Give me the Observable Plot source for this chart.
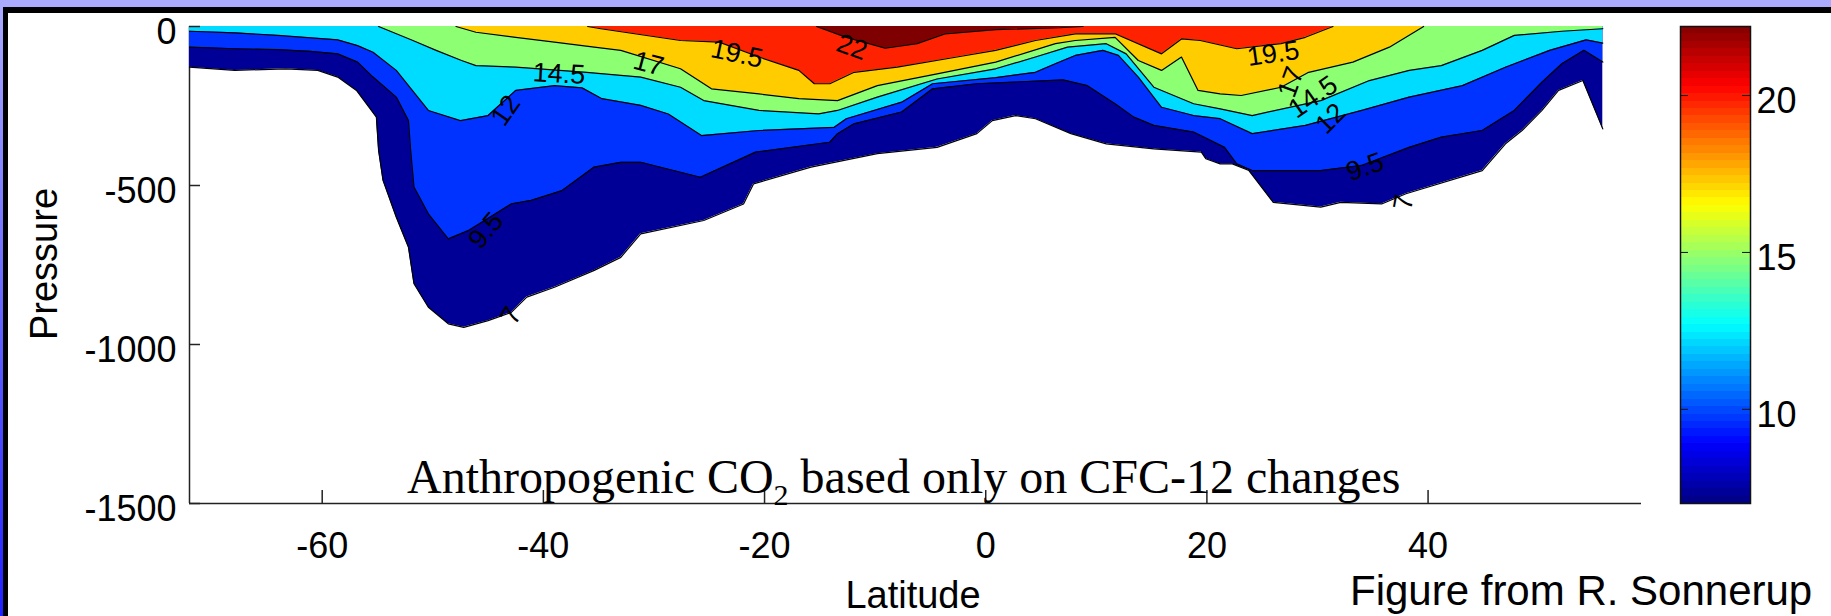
<!DOCTYPE html>
<html>
<head>
<meta charset="utf-8">
<script src="https://cdn.jsdelivr.net/npm/d3@7"></script>
<script src="https://cdn.jsdelivr.net/npm/@observablehq/plot@0.6"></script>
<style>
  body { margin: 0; background: #fff; }
  #chart { position: relative; width: 1831px; height: 616px; overflow: hidden; background: #fff; }
  #chart > svg { position: absolute; top: 0; }
  .deco { position: absolute; z-index: 5; }
</style>
</head>
<body>
<div id="chart"></div>
<script>
// Contour levels of anthropogenic CO2 (µmol/kg) and the fill used for each band
const levels = [7, 9.5, 12, 14.5, 17, 19.5, 22];
const bandColors = ["#000096", "#0033ff", "#00dcff", "#8cff73", "#ffcc00", "#ff2200", "#7f0000"];

// Isoline depths (pressure, dbar) along latitude, one pair of arrays per level
const iso7Lat = [-72, -67.9, -63.3, -60.4, -58.6, -56.9, -55.1, -54.9, -54.5, -53.3, -52.2, -51.7, -50.4, -48.6, -47.2, -45.0, -42.9, -41.5, -39.0, -35.4, -33.0, -31.2, -25.5, -21.9, -21.0, -15.8, -9.8, -4.4, -0.8, 0.6, 2.7, 4.5, 7.7, 10.9, 15.2, 19.5, 19.9, 21.2, 22.3, 23.8, 26.0, 30.3, 32.1, 35.8, 38.0, 44.9, 47.0, 48.5, 50.3, 51.8, 54.0, 55.8];
const iso7P = [-128, -138, -133, -138, -159, -201, -285, -390, -484, -600, -694, -809, -883, -935, -946, -925, -899, -851, -820, -767, -726, -652, -610, -558, -495, -442, -400, -380, -337, -296, -280, -290, -337, -369, -385, -395, -416, -432, -432, -453, -553, -568, -553, -558, -526, -453, -369, -327, -264, -201, -170, -322];

const iso95Lat = [-72, -67.9, -64.0, -61.1, -58.6, -56.8, -55.4, -53.3, -52.2, -52.0, -51.7, -50.4, -48.6, -46.8, -42.9, -41.1, -38.3, -35.4, -33.0, -31.2, -25.8, -20.8, -14.1, -13.4, -11.9, -7.6, -4.8, -0.8, 7.0, 9.2, 11.7, 13.4, 15.2, 18.8, 21.6, 22.7, 24.1, 30.3, 34.0, 38.3, 41.2, 44.9, 47.8, 50.3, 52.1, 54.1, 55.8];
const iso95P = [-65, -70, -73, -78, -86, -112, -159, -222, -296, -390, -505, -589, -668, -642, -558, -547, -516, -442, -427, -427, -474, -395, -364, -337, -306, -269, -196, -180, -168, -186, -243, -285, -311, -332, -380, -432, -453, -453, -437, -380, -348, -327, -264, -175, -117, -75, -112];

const iso12Lat = [-72, -67.9, -64.0, -58.6, -56.8, -55.4, -53.3, -50.4, -47.5, -45.0, -42.5, -39.0, -36.5, -34.7, -31.2, -28.7, -25.7, -20.5, -13.7, -12.6, -7.6, -4.8, 0.9, 4.5, 6.3, 8.1, 10.6, 12.0, 13.8, 15.9, 18.8, 21.2, 24.1, 28.9, 34.0, 38.3, 43.1, 47.0, 51.0, 54.3, 55.8];
const iso12P = [-15, -20, -28, -42, -60, -81, -138, -264, -296, -280, -201, -186, -193, -227, -248, -275, -343, -327, -317, -290, -238, -180, -161, -144, -117, -91, -75, -91, -159, -254, -280, -290, -337, -311, -264, -222, -186, -128, -75, -42, -52];

const iso145Lat = [-54.9, -51.8, -49.7, -47.4, -46.1, -42.5, -36.1, -33.0, -31.2, -27.6, -25.5, -20.5, -15.1, -13.4, -9.8, -4.4, 0.9, 4.5, 7.4, 10.9, 12.7, 15.2, 18.8, 21.2, 24.1, 30.3, 34.7, 38.3, 41.2, 44.9, 47.8, 52.1, 55.8];
const iso145P = [0, -44, -75, -107, -123, -128, -144, -154, -159, -191, -233, -264, -275, -264, -222, -165, -133, -96, -65, -54, -86, -191, -243, -259, -280, -233, -170, -138, -123, -75, -28, -15, -7];

const iso17Lat = [-47.9, -46.1, -42.5, -39.0, -35.4, -33.0, -27.6, -24.8, -20.5, -16.9, -13.4, -9.8, -4.4, 0.9, 6.3, 8.1, 11.7, 13.8, 15.9, 17.7, 19.2, 21.2, 23.1, 26.7, 29.2, 33.2, 36.5, 39.6];
const iso17P = [0, -18, -34, -49, -65, -75, -133, -196, -212, -227, -233, -186, -149, -112, -54, -44, -34, -107, -138, -96, -201, -212, -217, -191, -144, -112, -65, 0];

const iso195Lat = [-36.0, -34.8, -27.6, -24.1, -20.5, -16.9, -15.5, -14.1, -11.9, -8.0, -2.6, 0.9, 4.5, 8.1, 11.7, 15.9, 17.7, 19.4, 22.7, 26.7, 28.9, 31.4];
const iso195P = [0, -7, -44, -49, -96, -138, -180, -180, -144, -128, -96, -75, -44, -23, -23, -86, -39, -44, -70, -54, -34, 0];

const iso22Lat = [-15.3, -12.6, -9.1, -6.2, -3.7, 0.9, 6.7, 8.8];
const iso22P = [0, -34, -68, -54, -23, -10, -4, 0];

// Inline contour labels
const labelText = ["22", "19.5", "17", "14.5", "12", "9.5", "7", "19.5", "17", "14.5", "12", "9.5", "7"];
const labelLat = [-12.1, -22.5, -30.5, -38.6, -43.4, -45.2, -42.9, 26.0, 27.6, 29.6, 31.2, 34.3, 37.8];
const labelP = [-65, -86, -117, -149, -264, -642, -909, -86, -175, -222, -290, -442, -553];
const labelAngle = [20, 12, 15, 3, -55, -50, -60, -8, -70, -35, -45, -20, -80];

// Axis ticks
const xTicks = [-60, -40, -20, 0, 20, 40];
const yTicks = [0, -500, -1000, -1500];
const cbarTicks = [10, 15, 20];

// Colorbar range and jet colormap stops
const cbarRange = [7, 22.2];
const jetStops = [7, 8.9, 12.7, 16.5, 20.3, 22.2];
const jetColors = ["#000080", "#0000ff", "#00ffff", "#ffff00", "#ff0000", "#800000"];

const isolines = [
  {level: 7, lat: iso7Lat, p: iso7P},
  {level: 9.5, lat: iso95Lat, p: iso95P},
  {level: 12, lat: iso12Lat, p: iso12P},
  {level: 14.5, lat: iso145Lat, p: iso145P},
  {level: 17, lat: iso17Lat, p: iso17P},
  {level: 19.5, lat: iso195Lat, p: iso195P},
  {level: 22, lat: iso22Lat, p: iso22P}
];
const rows = isolines.flatMap(({level, lat, p}) => lat.map((x, i) => ({level, lat: x, p: p[i]})));
const labels = labelText.map((text, i) => ({text, lat: labelLat[i], p: labelP[i], angle: labelAngle[i]}));

const sans = "'Liberation Sans', Arial, Helvetica, sans-serif";
const fmt = (d) => String(d);

// Section plot: filled bands painted from the deepest isoline upward
const main = Plot.plot({
  width: 1831,
  height: 616,
  marginLeft: 189,
  marginRight: 190,
  marginTop: 26,
  marginBottom: 113,
  style: {background: "transparent", fontFamily: sans, overflow: "visible", color: "#000"},
  x: {domain: [-72, 59.3]},
  y: {domain: [-1500, 0]},
  color: {type: "threshold", domain: levels.slice(1), range: bandColors},
  marks: [
    Plot.ruleX([-72], {stroke: "#222", strokeWidth: 1.5}),
    Plot.ruleY([-1500], {stroke: "#222", strokeWidth: 1.5}),
    ...levels.map((L) => Plot.areaY(rows.filter((d) => d.level === L), {x: "lat", y1: 0, y2: "p", fill: "level"})),
    Plot.line(rows, {x: "lat", y: "p", z: "level", stroke: "#000", strokeWidth: 1.2}),
    Plot.ruleX(xTicks, {y1: -1500, y2: -1500, insetTop: -13, stroke: "#222", strokeWidth: 1.5}),
    Plot.ruleY(yTicks, {x1: -72, x2: -72, insetRight: -11, stroke: "#222", strokeWidth: 1.5}),
    Plot.axisX({ticks: xTicks, tickSize: 0, tickPadding: 29, tickFormat: fmt, fontSize: 36, label: null}),
    Plot.axisY({ticks: yTicks, tickSize: 0, tickPadding: 13, tickFormat: fmt, fontSize: 36, label: null, dy: 6}),
    Plot.text(labels, {x: "lat", y: "p", text: "text", rotate: "angle", fontSize: 27, fill: "#000"})
  ]
});
main.style.left = "0px";

// Colorbar
const steps = d3.range(64).map((i) => {
  const span = (cbarRange[1] - cbarRange[0]) / 64;
  const lo = cbarRange[0] + i * span;
  return {lo, hi: lo + span, mid: lo + span / 2};
});
const cbar = Plot.plot({
  width: 151,
  height: 616,
  marginLeft: 0,
  marginRight: 81,
  marginTop: 26,
  marginBottom: 113,
  style: {background: "transparent", fontFamily: sans, overflow: "visible", color: "#000"},
  x: {domain: [0, 1], axis: null},
  y: {domain: cbarRange},
  color: {type: "linear", domain: jetStops, range: jetColors, interpolate: "rgb"},
  marks: [
    Plot.rect(steps, {x1: 0, x2: 1, y1: "lo", y2: "hi", fill: "mid", shapeRendering: "crispEdges"}),
    Plot.frame({stroke: "#111", strokeWidth: 1.5}),
    Plot.ruleY(cbarTicks, {x1: 0, x2: 0, insetRight: -8, stroke: "#111"}),
    Plot.ruleY(cbarTicks, {x1: 1, x2: 1, insetLeft: -8, stroke: "#111"}),
    Plot.axisY({anchor: "right", ticks: cbarTicks, tickSize: 0, tickPadding: 6, fontSize: 36, label: null, dy: 6})
  ]
});
cbar.style.left = "1680px";

const chart = document.getElementById("chart");
chart.append(main, cbar);

// Titles, axis names and credit
const ns = "http://www.w3.org/2000/svg";
const overlay = document.createElementNS(ns, "svg");
overlay.setAttribute("width", 1831);
overlay.setAttribute("height", 616);
overlay.style.position = "absolute";
overlay.style.left = "0px";
overlay.style.top = "0px";
overlay.innerHTML = `
  <text x="407" y="493" font-family="'Liberation Serif', 'Times New Roman', serif" font-size="48" fill="#000">Anthropogenic CO<tspan font-size="30" dy="12">2</tspan><tspan dy="-12"> based only on CFC-12 changes</tspan></text>
  <text transform="translate(57,264) rotate(-90)" text-anchor="middle" font-family="${sans}" font-size="38" fill="#000">Pressure</text>
  <text x="913" y="608" text-anchor="middle" font-family="${sans}" font-size="38" fill="#000">Latitude</text>
  <text x="1350" y="605" font-family="${sans}" font-size="42" fill="#000">Figure from R. Sonnerup</text>`;
chart.append(overlay);

// Slide border: lavender band, black rules and a shaded left strip
const deco = [
  {left: 0, top: 0, width: 1831, height: 7, background: "#aaaaff"},
  {left: 3, top: 7, width: 1828, height: 6, background: "#000"},
  {left: 0, top: 7, width: 3, height: 609, background: "linear-gradient(#aaaaff, #2020ff)"},
  {left: 3, top: 7, width: 5, height: 609, background: "#000"}
];
for (const d of deco) {
  const el = document.createElement("div");
  el.className = "deco";
  Object.assign(el.style, {left: d.left + "px", top: d.top + "px", width: d.width + "px", height: d.height + "px", background: d.background});
  chart.append(el);
}
</script>
</body>
</html>
